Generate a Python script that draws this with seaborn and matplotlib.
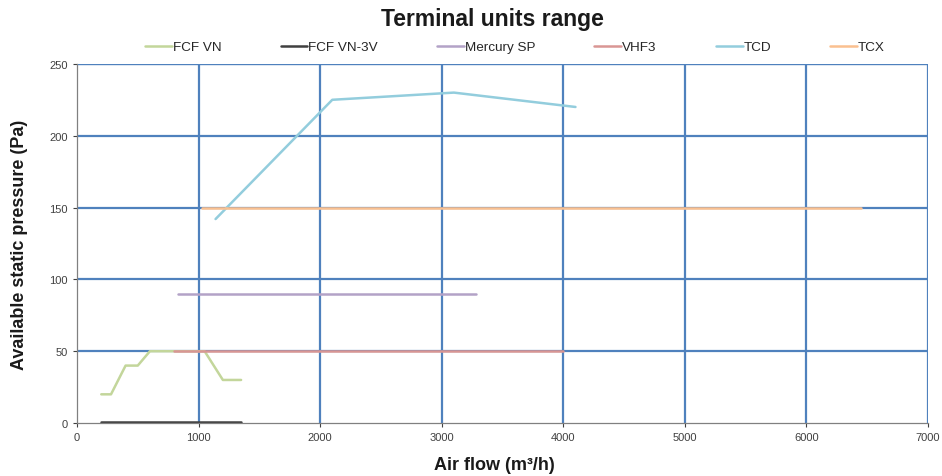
import matplotlib
matplotlib.use("Agg")
import matplotlib.pyplot as plt
import seaborn as sns
import pandas as pd

sns.set_theme(style="white")
plt.rcParams['font.family'] = ['Liberation Sans', 'DejaVu Sans']

series_names = ["FCF VN", "FCF VN-3V", "Mercury SP", "VHF3", "TCD", "TCX"]
colors = ["#C3D69B", "#404040", "#B3A2C7", "#D99694", "#93CDDD", "#FAC090"]

fcf_vn_x = [200, 280, 400, 500, 600, 800, 1050, 1200, 1350]
fcf_vn_y = [20, 20, 40, 40, 50, 50, 50, 30, 30]
fcf_vn3v_x = [200, 1350]
fcf_vn3v_y = [1, 1]
mercury_x = [830, 3280]
mercury_y = [90, 90]
vhf3_x = [800, 4000]
vhf3_y = [50, 50]
tcd_x = [1140, 2100, 3100, 4100]
tcd_y = [142, 225, 230, 220]
tcx_x = [1030, 6450]
tcx_y = [150, 150]

xs = [fcf_vn_x, fcf_vn3v_x, mercury_x, vhf3_x, tcd_x, tcx_x]
ys = [fcf_vn_y, fcf_vn3v_y, mercury_y, vhf3_y, tcd_y, tcx_y]

rows = []
for name, xv, yv in zip(series_names, xs, ys):
    for i, (a, b) in enumerate(zip(xv, yv)):
        rows.append({"series": name, "order": i, "x": a, "y": b})
df = pd.DataFrame(rows)

fig = plt.figure(figsize=(9.42, 4.77), dpi=100)
ax = fig.add_axes([0.0817, 0.111, 0.9035, 0.753])

grid_c = "#4F81BD"
for xv in range(1000, 7001, 1000):
    ax.axvline(xv, color=grid_c, lw=1.6, zorder=0)
for yv in range(50, 251, 50):
    ax.axhline(yv, color=grid_c, lw=1.6 if yv < 250 else 1.0, zorder=0)

sns.lineplot(data=df, x="x", y="y", hue="series", hue_order=series_names,
             palette=colors, units="series", estimator=None, sort=False,
             lw=1.8, ax=ax, legend=True)

ax.set_xlim(0, 7000)
ax.set_ylim(0, 250)
ax.set_xticks(range(0, 7001, 1000))
ax.set_yticks(range(0, 251, 50))
ax.tick_params(axis='both', labelsize=8, colors="#404040", length=3, width=0.8,
               direction='out', bottom=True, left=True)
for s in ["top", "right"]:
    ax.spines[s].set_visible(False)
for s in ["left", "bottom"]:
    ax.spines[s].set_color("#808080")
    ax.spines[s].set_linewidth(0.9)

ax.set_xlabel("Air flow (m³/h)", fontsize=13, fontweight="bold", color="#1a1a1a")
ax.set_ylabel("Available static pressure (Pa)", fontsize=13, fontweight="bold", color="#1a1a1a")
ax.xaxis.label.set_horizontalalignment('left')
ax.xaxis.set_label_coords(0.4195, -0.092)
ax.yaxis.set_label_coords(-0.0576, 0.5)

fig.text(0.523, 0.960, "Terminal units range", ha="center", va="center",
         fontsize=16.5, fontweight="bold", color="#1a1a1a")

h, l = ax.get_legend_handles_labels()
ax.legend(h, l, ncol=6, frameon=False, fontsize=9.7, handlelength=2.0, handletextpad=0.05,
          columnspacing=4.4, loc="center left", bbox_to_anchor=(145 / 942, 1 - 48 / 477),
          bbox_transform=fig.transFigure, borderaxespad=0, borderpad=0)

fig.savefig("out.png", dpi=100)
